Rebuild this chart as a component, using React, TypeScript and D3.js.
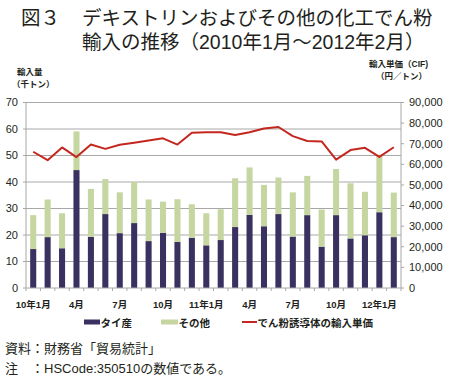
import React from "react";
import * as d3 from "d3";

const months = [
  "10年1月", "2月", "3月", "4月", "5月", "6月", "7月", "8月", "9月", "10月", "11月", "12月",
  "11年1月", "2月", "3月", "4月", "5月", "6月", "7月", "8月", "9月", "10月", "11月", "12月",
  "12年1月", "2月",
];
const shownTicks = [0, 3, 6, 9, 12, 15, 18, 21, 24];
const thai = [14.7, 19.2, 15.0, 44.5, 19.3, 27.9, 20.7, 24.5, 17.7, 20.8, 17.4, 18.9, 16.1, 18.1, 23.0, 27.6, 23.3, 27.9, 19.4, 27.5, 15.6, 27.5, 18.7, 19.9, 28.6, 19.2];
const others = [12.8, 14.2, 13.2, 14.6, 18.1, 13.2, 15.4, 15.5, 15.7, 11.8, 16.1, 12.7, 12.1, 11.6, 18.4, 17.9, 15.6, 13.8, 16.7, 14.8, 14.0, 17.4, 20.8, 16.4, 21.7, 16.8];
const price = [66100, 62000, 68200, 63500, 69600, 67500, 69500, 70500, 71600, 72600, 69600, 75300, 75600, 75600, 74200, 75600, 77400, 78100, 73700, 71300, 71100, 62300, 66900, 68000, 63600, 68300];
const leftTicks = [0, 10, 20, 30, 40, 50, 60, 70];
const rightTicks = [0, 10000, 20000, 30000, 40000, 50000, 60000, 70000, 80000, 90000];

const NAVY = "#3a3160";
const GREEN = "#c6d6a0";
const RED = "#c3271f";
const GRID = "#a8a8a8";
const INK = "#231f20";
const FONT = "'Liberation Sans', 'Noto Sans CJK JP', sans-serif";

export default function App() {
  const W = 450, H = 379;
  const left = 26, right = 401, top = 102.5, bottom = 288;
  const idx = months.map((_, i) => i);
  const x = d3.scaleBand<number>().domain(idx).range([left, right]).paddingInner(0.58).paddingOuter(0.29);
  const step = x.step();
  const yL = d3.scaleLinear().domain([0, 70]).range([bottom, top]);
  const yR = d3.scaleLinear().domain([0, 90000]).range([bottom, top]);
  const cx = (i: number) => (x(i) as number) + x.bandwidth() / 2;
  const line = d3.line<number>().x((_, i) => cx(i)).y((d) => yR(d));
  const fmt = d3.format(",");

  return (
    <svg width={W} height={H} style={{ position: "absolute", left: 0, top: 0, background: "#fff" }} fontFamily={FONT}>
      {/* title */}
      <text x={21} y={24.5} fontSize={19.5} fill={INK}>図３</text>
      <text x={82} y={24.5} fontSize={19.5} fill={INK}>デキストリンおよびその他の化工でん粉</text>
      <text x={82} y={48.5} fontSize={19.5} fill={INK}>輸入の推移（2010年1月～2012年2月）</text>

      {/* axis titles */}
      <text x={17} y={74.5} fontSize={8.5} fontWeight="bold" fill={INK}>輸入量</text>
      <text x={12} y={86.5} fontSize={8.5} fontWeight="bold" fill={INK}>（千トン）</text>
      <text x={369} y={67} fontSize={8.5} fontWeight="bold" fill={INK}>輸入単価（CIF)</text>
      <text x={376} y={79} fontSize={8.5} fontWeight="bold" fill={INK}>（円／トン）</text>

      {/* gridlines */}
      {leftTicks.slice(1).map((t) => (
        <line key={t} x1={left} x2={right} y1={yL(t)} y2={yL(t)} stroke={GRID} strokeWidth={1} />
      ))}

      {/* bars */}
      {idx.map((i) => (
        <g key={i}>
          <rect x={x(i)} width={x.bandwidth()} y={yL(thai[i])} height={yL(0) - yL(thai[i])} fill={NAVY} />
          <rect x={x(i)} width={x.bandwidth()} y={yL(thai[i] + others[i])} height={yL(thai[i]) - yL(thai[i] + others[i])} fill={GREEN} />
        </g>
      ))}

      {/* line */}
      <path d={line(price) as string} fill="none" stroke={RED} strokeWidth={2} strokeLinejoin="round" />

      {/* axes */}
      <line x1={left} x2={left} y1={top} y2={bottom} stroke={GRID} />
      <line x1={right} x2={right} y1={top} y2={bottom} stroke={GRID} />
      <line x1={left} x2={right} y1={bottom} y2={bottom} stroke={GRID} />
      {leftTicks.map((t) => (
        <g key={t}>
          <line x1={left - 3} x2={left} y1={yL(t)} y2={yL(t)} stroke={GRID} />
          <text x={18} y={yL(t)} dy="0.35em" textAnchor="end" fontSize={11} fill={INK}>{t}</text>
        </g>
      ))}
      {rightTicks.map((t) => (
        <g key={t}>
          <line x1={right} x2={right + 3} y1={yR(t)} y2={yR(t)} stroke={GRID} />
          <text x={409} y={yR(t)} dy="0.35em" fontSize={11} fill={INK}>{fmt(t)}</text>
        </g>
      ))}
      {d3.range(months.length + 1).map((k) => (
        <line key={k} x1={left + k * step} x2={left + k * step} y1={bottom} y2={bottom + 3} stroke={GRID} />
      ))}
      {shownTicks.map((i) => (
        <text key={i} x={cx(i)} y={308} textAnchor="middle" fontSize={9.5} fontWeight="bold" fill={INK}>{months[i]}</text>
      ))}

      {/* legend */}
      <rect x={84} y={319.5} width={16} height={5} fill={NAVY} />
      <text x={100.5} y={326.5} fontSize={10.5} fontWeight="bold" fill={INK}>タイ産</text>
      <rect x={161} y={319.5} width={17} height={5} fill={GREEN} />
      <text x={178.5} y={326.5} fontSize={10.5} fontWeight="bold" fill={INK}>その他</text>
      <line x1={242} x2={257} y1={322} y2={322} stroke={RED} strokeWidth={2} />
      <text x={257.5} y={326.5} fontSize={10.5} fontWeight="bold" fill={INK}>でん粉誘導体の輸入単価</text>

      {/* notes */}
      <text x={5} y={353} fontSize={13} fill={INK}>資料</text>
      <text x={31} y={353} fontSize={13} fill={INK}>：財務省「貿易統計」</text>
      <text x={5} y={373} fontSize={13} fill={INK}>注</text>
      <text x={31} y={373} fontSize={13} fill={INK}>：HSCode:350510の数値である。</text>
    </svg>
  );
}
